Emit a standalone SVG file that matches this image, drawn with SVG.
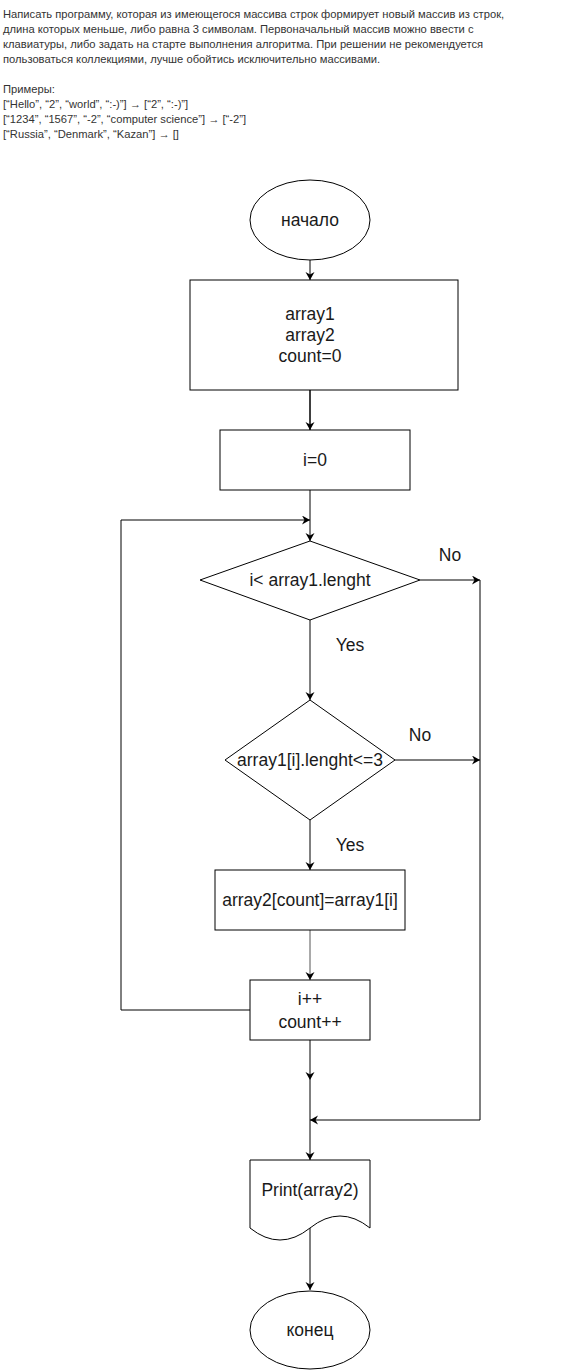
<svg xmlns="http://www.w3.org/2000/svg" width="561" height="1370" viewBox="0 0 561 1370">
<style>
.hdr{font-family:"Liberation Sans",Arial,sans-serif;font-size:11.2px;fill:#333}
.lbl{font-family:"Liberation Sans",Arial,sans-serif;font-size:17.5px;fill:#1a1a1a;text-anchor:middle;dominant-baseline:central}
.shape{fill:#fff;stroke:#000;stroke-width:1}
.edge{fill:none;stroke:#000;stroke-width:1;marker-end:url(#arr)}
</style>
<defs>
<marker id="arr" markerUnits="userSpaceOnUse" markerWidth="10" markerHeight="10" refX="8" refY="4.5" orient="auto">
<path d="M0,0 L8,4.5 L0,9 L2.5,4.5 Z" fill="#000"/>
</marker>
</defs>
<rect width="561" height="1370" fill="#fff"/>
<g id="header">
<text class="hdr" x="3" y="18">Написать программу, которая из имеющегося массива строк формирует новый массив из строк,</text>
<text class="hdr" x="3" y="33">длина которых меньше, либо равна 3 символам. Первоначальный массив можно ввести с</text>
<text class="hdr" x="3" y="48">клавиатуры, либо задать на старте выполнения алгоритма. При решении не рекомендуется</text>
<text class="hdr" x="3" y="63">пользоваться коллекциями, лучше обойтись исключительно массивами.</text>
<text class="hdr" x="3" y="93">Примеры:</text>
<text class="hdr" x="3" y="108">[“Hello”, “2”, “world”, “:-)”] → [“2”, “:-)”]</text>
<text class="hdr" x="3" y="123">[“1234”, “1567”, “-2”, “computer science”] → [“-2”]</text>
<text class="hdr" x="3" y="138">[“Russia”, “Denmark”, “Kazan”] → []</text>
</g>
<g id="connectors">
<path class="edge" d="M310,260 V280"/>
<path class="edge" d="M310,390 V430" style="stroke-width:1.5"/>
<path class="edge" d="M310,490 V541"/>
<path class="edge" d="M310,620 V700"/>
<path class="edge" d="M420,580 H480"/>
<path class="edge" d="M395,760 H480"/>
<path class="edge" d="M310,820 V870"/>
<path class="edge" d="M310,930 V980" style="stroke:#555"/>
<path class="edge" d="M250,1010 H121 V520 H310"/>
<path class="edge" d="M310,1040 V1080"/>
<path class="edge" d="M310,1080 V1160"/>
<path class="edge" d="M480,580 V1120 H310"/>
<path class="edge" d="M310,1228 V1290"/>
<text class="lbl" x="450" y="555">No</text>
<text class="lbl" x="350" y="645">Yes</text>
<text class="lbl" x="420" y="735">No</text>
<text class="lbl" x="350" y="845">Yes</text>
</g>
<g id="start">
<ellipse class="shape" cx="310" cy="220" rx="60" ry="40"/>
<text class="lbl" x="310" y="220">начало</text>
</g>
<g id="init">
<rect class="shape" x="190" y="280" width="268" height="110"/>
<text class="lbl" x="310" y="314">array1</text>
<text class="lbl" x="310" y="335">array2</text>
<text class="lbl" x="310" y="356">count=0</text>
</g>
<g id="i0">
<rect class="shape" x="220" y="430" width="190" height="60"/>
<text class="lbl" x="315" y="460">i=0</text>
</g>
<g id="cond1">
<path class="shape" d="M310,541 L420,580 L310,620 L200,580 Z"/>
<text class="lbl" x="310" y="580">i&lt; array1.lenght</text>
</g>
<g id="cond2">
<path class="shape" d="M310,700 L395,760 L310,820 L225,760 Z"/>
<text class="lbl" x="310" y="760">array1[i].lenght&lt;=3</text>
</g>
<g id="assign">
<rect class="shape" x="215" y="870" width="190" height="60"/>
<text class="lbl" x="310" y="900">array2[count]=array1[i]</text>
</g>
<g id="incr">
<rect class="shape" x="250" y="980" width="120" height="60"/>
<text class="lbl" x="310" y="999">i++</text>
<text class="lbl" x="310" y="1022">count++</text>
</g>
<g id="print">
<path class="shape" d="M250,1160 H370 V1228 Q340,1204 310,1228 Q280,1252 250,1228 Z"/>
<text class="lbl" x="310" y="1190">Print(array2)</text>
</g>
<g id="end">
<ellipse class="shape" cx="310" cy="1330" rx="60" ry="39"/>
<text class="lbl" x="310" y="1330">конец</text>
</g>
</svg>
